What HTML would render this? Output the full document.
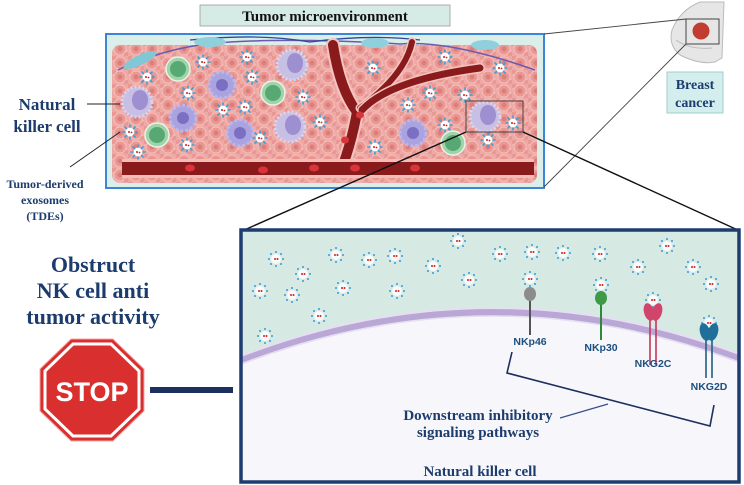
<!DOCTYPE html>
<html><head><meta charset="utf-8"><style>
html,body{margin:0;padding:0;background:#fff;}
svg{display:block;}
.s{font-family:"Liberation Serif",serif;font-weight:bold;fill:#1d3c6e;}
.a{font-family:"Liberation Sans",sans-serif;font-weight:bold;fill:#1d4f80;font-size:10.5px;}
</style></head><body>
<svg width="744" height="485" viewBox="0 0 744 485" xmlns="http://www.w3.org/2000/svg">
<defs>
<pattern id="cells" width="16" height="14" patternUnits="userSpaceOnUse">
<rect width="16" height="14" fill="#eea9a6"/>
<circle cx="8" cy="7" r="6" fill="#e99893" stroke="#f3bcb8" stroke-width="1.2"/>
<circle cx="8" cy="7" r="2.5" fill="#dd7e7a"/>
<circle cx="0" cy="0" r="5" fill="#e99893" stroke="#f3bcb8"/>
<circle cx="16" cy="14" r="5" fill="#e99893" stroke="#f3bcb8"/>
</pattern>
<g id="ex">
<circle r="4.5" fill="#fff"/>
<g stroke="#3aa0d8" stroke-width="1.6" stroke-linecap="round">
<line x1="0" y1="-5" x2="0" y2="-7"/><line x1="0" y1="5" x2="0" y2="7"/>
<line x1="-5" y1="0" x2="-7" y2="0"/><line x1="5" y1="0" x2="7" y2="0"/>
<line x1="3.5" y1="3.5" x2="5" y2="5"/><line x1="-3.5" y1="3.5" x2="-5" y2="5"/>
<line x1="3.5" y1="-3.5" x2="5" y2="-5"/><line x1="-3.5" y1="-3.5" x2="-5" y2="-5"/>
</g>
<circle cx="-1" cy="0" r="1" fill="#d02020"/><circle cx="1.5" cy="0.5" r="0.9" fill="#d02020"/>
</g>
<g id="ex2">
<circle r="5" fill="#fff" opacity="0.8"/>
<g fill="#3a9ad8">
<circle cx="0" cy="-7" r="1"/><circle cx="0" cy="7" r="1"/><circle cx="-7" cy="0" r="1"/><circle cx="7" cy="0" r="1"/>
<circle cx="5" cy="5" r="1"/><circle cx="-5" cy="5" r="1"/><circle cx="5" cy="-5" r="1"/><circle cx="-5" cy="-5" r="1"/>
</g>
<circle cx="-1" cy="0" r="1" fill="#d02020"/><circle cx="1.5" cy="0" r="1" fill="#d02020"/>
</g>
<g id="gc"><circle r="12" fill="#9fd3a8" stroke="#e8f3ea" stroke-width="1.5"/><circle r="8" fill="#57a873"/></g>
<g id="nk"><circle r="15" fill="#c7c0e4" stroke="#d9d4f0" stroke-width="3" stroke-dasharray="2 2"/><ellipse cx="3" cy="-2" rx="8" ry="10" fill="#9d8fd0"/></g>
<g id="bc"><circle r="13" fill="#a9a3e0" stroke="#bcb6ec" stroke-width="3" stroke-dasharray="3 2"/><circle r="6" fill="#7b6fc4"/></g>
</defs>

<!-- title -->
<rect x="200" y="5" width="250" height="21" fill="#d6ebe6" stroke="#9a9a9a" stroke-width="0.8"/>
<text x="325" y="21" text-anchor="middle" class="s" font-size="15" fill="#111" style="fill:#111">Tumor microenvironment</text>

<!-- tissue -->
<rect x="106" y="34" width="438" height="154" fill="#dbeeea" stroke="#3b86d6" stroke-width="2"/>
<rect x="112" y="45" width="425" height="138" fill="url(#cells)" rx="8"/>
<!-- top fibroblasts -->
<path d="M118,70 Q170,45 230,42 Q300,38 400,44 Q450,40 535,70" fill="none" stroke="#6b5ab0" stroke-width="1.5"/>
<path d="M190,40 Q260,33 310,42 Q370,34 420,40" fill="none" stroke="#2c4a9a" stroke-width="1.3"/>
<ellipse cx="140" cy="60" rx="18" ry="5" fill="#7fc8d6" transform="rotate(-25 140 60)"/>
<ellipse cx="210" cy="42" rx="16" ry="5" fill="#8fd0dc"/>
<ellipse cx="375" cy="43" rx="14" ry="5" fill="#8fd0dc"/>
<ellipse cx="485" cy="45" rx="14" ry="5" fill="#8fd0dc"/>
<!-- vessels -->
<g fill="none" stroke-linecap="round">
<path d="M333,45 Q340,90 357,112 Q352,140 343,165" stroke="#f5c4c0" stroke-width="14"/>
<path d="M333,45 Q340,90 357,112 Q352,140 343,165" stroke="#8a1b1d" stroke-width="10"/>
<path d="M412,42 Q405,75 360,108" stroke="#f5c4c0" stroke-width="9"/>
<path d="M412,42 Q405,75 360,108" stroke="#8a1b1d" stroke-width="6"/>
<path d="M480,68 Q390,80 362,110" stroke="#f5c4c0" stroke-width="10"/>
<path d="M480,68 Q390,80 362,110" stroke="#8a1b1d" stroke-width="7"/>
</g>
<rect x="122" y="159" width="412" height="19" fill="#f4bcb8"/>
<rect x="122" y="162" width="412" height="13" fill="#8a1b1d"/>
<g fill="#d9343a"><ellipse cx="190" cy="168" rx="5" ry="3.5"/><ellipse cx="263" cy="170" rx="5" ry="3.5"/><ellipse cx="314" cy="168" rx="5" ry="3.5"/><ellipse cx="355" cy="168" rx="5" ry="3.5"/><ellipse cx="415" cy="168" rx="5" ry="3.5"/><ellipse cx="360" cy="115" rx="4" ry="3.5"/><ellipse cx="345" cy="140" rx="4" ry="3.5"/></g>
<!-- cells -->
<use href="#gc" x="178" y="69"/><use href="#gc" x="273" y="93"/><use href="#gc" x="157" y="135"/><use href="#gc" x="453" y="143"/>
<use href="#nk" x="137" y="102"/><use href="#nk" x="292" y="65"/><use href="#nk" x="290" y="127"/><use href="#nk" x="485" y="117"/>
<use href="#bc" x="222" y="85"/><use href="#bc" x="183" y="118"/><use href="#bc" x="240" y="133"/><use href="#bc" x="413" y="133"/>
<g>
<use href="#ex" x="147" y="77"/><use href="#ex" x="203" y="62"/><use href="#ex" x="247" y="57"/><use href="#ex" x="252" y="77"/>
<use href="#ex" x="188" y="93"/><use href="#ex" x="223" y="110"/><use href="#ex" x="245" y="107"/><use href="#ex" x="303" y="97"/>
<use href="#ex" x="320" y="122"/><use href="#ex" x="130" y="132"/><use href="#ex" x="138" y="152"/><use href="#ex" x="187" y="145"/>
<use href="#ex" x="260" y="138"/><use href="#ex" x="373" y="68"/><use href="#ex" x="445" y="57"/><use href="#ex" x="500" y="68"/>
<use href="#ex" x="430" y="93"/><use href="#ex" x="465" y="95"/><use href="#ex" x="408" y="105"/><use href="#ex" x="445" y="125"/>
<use href="#ex" x="513" y="123"/><use href="#ex" x="488" y="140"/><use href="#ex" x="375" y="147"/>
</g>
<rect x="466" y="101" width="57" height="31" fill="none" stroke="#444" stroke-width="1"/>

<!-- breast -->
<path d="M700,2 Q680,10 672,30 Q668,45 680,55 Q700,65 715,62 L722,58 L724,2 Z" fill="#e6e6e6" stroke="#bbb" stroke-width="1"/>
<path d="M676,40 Q690,50 712,48" fill="none" stroke="#bbb"/>
<circle cx="701" cy="31" r="8.5" fill="#c23c30"/>
<rect x="686" y="19" width="33" height="25" fill="none" stroke="#444" stroke-width="1"/>
<rect x="667" y="72" width="56" height="41" fill="#d3eeec" stroke="#9fcfcf"/>
<text x="695" y="89" text-anchor="middle" class="s" font-size="14">Breast</text>
<text x="695" y="107" text-anchor="middle" class="s" font-size="14">cancer</text>
<line x1="544" y1="34" x2="686" y2="19" stroke="#444" stroke-width="0.9"/>
<line x1="544" y1="187" x2="686" y2="44" stroke="#444" stroke-width="0.9"/>

<!-- zoom connectors -->
<line x1="466" y1="132" x2="242" y2="231" stroke="#111" stroke-width="1.4"/>
<line x1="523" y1="132" x2="740" y2="231" stroke="#111" stroke-width="1.4"/>

<!-- left labels -->
<text x="47" y="110" text-anchor="middle" class="s" font-size="17">Natural</text>
<text x="47" y="132" text-anchor="middle" class="s" font-size="17">killer cell</text>
<line x1="87" y1="104" x2="120" y2="104" stroke="#222" stroke-width="1"/>
<line x1="70" y1="167" x2="120" y2="132" stroke="#222" stroke-width="1"/>
<text x="45" y="188" text-anchor="middle" class="s" font-size="12">Tumor-derived</text>
<text x="45" y="204" text-anchor="middle" class="s" font-size="12">exosomes</text>
<text x="45" y="220" text-anchor="middle" class="s" font-size="12">(TDEs)</text>

<text x="93" y="272" text-anchor="middle" class="s" font-size="22">Obstruct</text>
<text x="93" y="298" text-anchor="middle" class="s" font-size="22">NK cell anti</text>
<text x="93" y="324" text-anchor="middle" class="s" font-size="22">tumor activity</text>

<!-- stop -->
<polygon points="71,339 113,339 144,369 144,411 113,441 71,441 40,411 40,369" fill="#d9302f" stroke="#f3a9a6" stroke-width="1"/>
<polygon points="73,344 111,344 139,371 139,409 111,436 73,436 45,409 45,371" fill="none" stroke="#fff" stroke-width="3"/>
<text x="92" y="401" text-anchor="middle" font-family="Liberation Sans,sans-serif" font-weight="bold" font-size="27" fill="#fff">STOP</text>
<rect x="150" y="387" width="83" height="6" fill="#1d2f5e"/>

<!-- bottom box -->
<rect x="241" y="230" width="498" height="252" fill="#d6e9e3"/>
<path d="M241,360 Q490,265 739,358 L739,482 L241,482 Z" fill="#f7f6fb"/>
<path d="M241,360 Q490,265 739,358" fill="none" stroke="#b9a8d6" stroke-width="9"/>
<path d="M241,356 Q490,261 739,354" fill="none" stroke="#e8def3" stroke-width="2"/>
<path d="M241,364 Q490,269 739,362" fill="none" stroke="#e8def3" stroke-width="1.5"/>
<rect x="241" y="230" width="498" height="252" fill="none" stroke="#1f3c70" stroke-width="3.5"/>
<g>
<use href="#ex2" x="276" y="259"/><use href="#ex2" x="303" y="274"/><use href="#ex2" x="260" y="291"/><use href="#ex2" x="292" y="295"/>
<use href="#ex2" x="336" y="255"/><use href="#ex2" x="369" y="260"/><use href="#ex2" x="395" y="256"/><use href="#ex2" x="343" y="288"/>
<use href="#ex2" x="397" y="291"/><use href="#ex2" x="319" y="316"/><use href="#ex2" x="265" y="336"/><use href="#ex2" x="433" y="266"/>
<use href="#ex2" x="458" y="241"/><use href="#ex2" x="469" y="280"/><use href="#ex2" x="500" y="254"/><use href="#ex2" x="532" y="252"/>
<use href="#ex2" x="563" y="253"/><use href="#ex2" x="600" y="254"/><use href="#ex2" x="638" y="267"/><use href="#ex2" x="667" y="246"/>
<use href="#ex2" x="693" y="267"/><use href="#ex2" x="711" y="284"/><use href="#ex2" x="530" y="279"/><use href="#ex2" x="601" y="285"/>
<use href="#ex2" x="653" y="300"/><use href="#ex2" x="709" y="323"/>
</g>
<!-- receptors -->
<line x1="530" y1="298" x2="530" y2="335" stroke="#555" stroke-width="2"/>
<ellipse cx="530" cy="294" rx="6" ry="7" fill="#8c8c8c"/>
<text x="530" y="345" text-anchor="middle" class="a">NKp46</text>
<line x1="601" y1="302" x2="601" y2="340" stroke="#2e8a38" stroke-width="2"/>
<ellipse cx="601" cy="298" rx="6" ry="7" fill="#3f9a47"/>
<text x="601" y="351" text-anchor="middle" class="a">NKp30</text>
<line x1="650" y1="318" x2="650" y2="365" stroke="#c0395a" stroke-width="1.6"/>
<line x1="656" y1="318" x2="656" y2="365" stroke="#c0395a" stroke-width="1.6"/>
<ellipse cx="649" cy="312" rx="5" ry="9" fill="#d2456a" transform="rotate(-15 649 312)"/>
<ellipse cx="657" cy="312" rx="5" ry="9" fill="#d2456a" transform="rotate(15 657 312)"/>
<text x="653" y="367" text-anchor="middle" class="a">NKG2C</text>
<line x1="706" y1="338" x2="706" y2="378" stroke="#1e5f80" stroke-width="1.6"/>
<line x1="712" y1="338" x2="712" y2="378" stroke="#1e5f80" stroke-width="1.6"/>
<ellipse cx="705" cy="332" rx="5" ry="9" fill="#1f6f9a" transform="rotate(-15 705 332)"/>
<ellipse cx="713" cy="332" rx="5" ry="9" fill="#1f6f9a" transform="rotate(15 713 332)"/>
<text x="709" y="390" text-anchor="middle" class="a">NKG2D</text>
<!-- bracket -->
<polyline points="512,352 507,373 710,426 714,405" fill="none" stroke="#1d2f5e" stroke-width="1.6"/>
<line x1="560" y1="418" x2="608" y2="404" stroke="#3a4f8a" stroke-width="1.2"/>
<text x="478" y="420" text-anchor="middle" class="s" font-size="15">Downstream inhibitory</text>
<text x="478" y="437" text-anchor="middle" class="s" font-size="15">signaling pathways</text>
<text x="480" y="476" text-anchor="middle" class="s" font-size="15">Natural killer cell</text>
</svg>
</body></html>
